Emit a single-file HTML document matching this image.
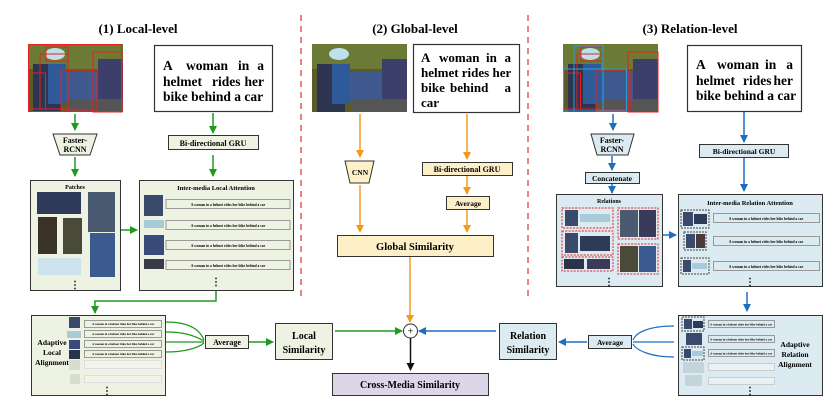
<!DOCTYPE html>
<html><head><meta charset="utf-8"><style>
html,body{margin:0;padding:0;background:#fff;}
svg{display:block;font-family:"Liberation Serif",serif;font-weight:bold;}
</style></head><body>
<svg width="839" height="407" viewBox="0 0 839 407" xmlns="http://www.w3.org/2000/svg">
<defs>
<g id="photo">
<rect x="0" y="0" width="95" height="68" fill="#5a5a2a"/>
<rect x="0" y="0" width="95" height="25" fill="#6b7a35"/>
<rect x="35" y="28" width="45" height="30" fill="#3e5a8e"/>
<rect x="70" y="15" width="25" height="53" fill="#3b3f6a"/>
<rect x="5" y="20" width="28" height="48" fill="#2d3550"/>
<rect x="20" y="20" width="18" height="40" fill="#2f5a9a"/>
<ellipse cx="27" cy="10" rx="10" ry="6" fill="#bfe0ea"/>
<rect x="40" y="55" width="55" height="13" fill="#555"/>
</g>
<marker id="ag" markerWidth="8" markerHeight="8" refX="7" refY="4" orient="auto" markerUnits="userSpaceOnUse"><path d="M0,0 L8,4 L0,8 z" fill="#1e9a1e"/></marker>
<marker id="ao" markerWidth="8" markerHeight="8" refX="7" refY="4" orient="auto" markerUnits="userSpaceOnUse"><path d="M0,0 L8,4 L0,8 z" fill="#f39a1e"/></marker>
<marker id="ab" markerWidth="8" markerHeight="8" refX="7" refY="4" orient="auto" markerUnits="userSpaceOnUse"><path d="M0,0 L8,4 L0,8 z" fill="#1f6fc0"/></marker>
<marker id="ak" markerWidth="8" markerHeight="8" refX="7" refY="4" orient="auto" markerUnits="userSpaceOnUse"><path d="M0,0 L8,4 L0,8 z" fill="#111"/></marker>
</defs>

<line x1="301" y1="15" x2="301" y2="300" stroke="#e03030" stroke-width="1.2" stroke-dasharray="6,5"/>
<line x1="528" y1="15" x2="528" y2="300" stroke="#e03030" stroke-width="1.2" stroke-dasharray="6,5"/>

<text x="138" y="33" font-size="13" text-anchor="middle">(1) Local-level</text>
<text x="415" y="33" font-size="13" text-anchor="middle">(2) Global-level</text>
<text x="690" y="33" font-size="13" text-anchor="middle">(3) Relation-level</text>

<!-- LEFT -->
<use href="#photo" x="28" y="44"/>
<g fill="none" stroke="#e82020" stroke-width="1">
<rect x="28.5" y="73" width="17" height="36"/><rect x="40" y="54" width="28" height="55"/>
<rect x="46" y="47" width="22" height="14"/><rect x="61" y="70" width="36" height="40"/>
<rect x="93" y="52" width="29" height="60"/><rect x="28.5" y="44.5" width="93" height="67"/>
</g>
<rect x="154.5" y="45.5" width="118" height="66" fill="#fff" stroke="#333" stroke-width="1.2"/>
<g font-size="13.5">
<text x="163" y="70">A</text><text x="186" y="70">woman</text><text x="238" y="70">in</text><text x="264" y="70" text-anchor="end">a</text>
<text x="163" y="86">helmet</text><text x="212" y="86">rides</text><text x="264" y="86" text-anchor="end">her</text>
<text x="163" y="101">bike behind a car</text>
</g>

<line x1="75" y1="114" x2="75" y2="130" stroke="#1e9a1e" stroke-width="1.5" marker-end="url(#ag)"/>
<polygon points="53,134 97,134 90,155 60,155" fill="#eef2e2" stroke="#333"/>
<text x="75" y="143" font-size="8" text-anchor="middle">Faster-</text>
<text x="75" y="152" font-size="8" text-anchor="middle">RCNN</text>
<line x1="75" y1="157" x2="75" y2="176" stroke="#1e9a1e" stroke-width="1.5" marker-end="url(#ag)"/>

<line x1="213" y1="113" x2="213" y2="133" stroke="#1e9a1e" stroke-width="1.5" marker-end="url(#ag)"/>
<rect x="168.5" y="135.5" width="90" height="14" fill="#eef2e2" stroke="#333"/>
<text x="213" y="146" font-size="8" text-anchor="middle">Bi-directional GRU</text>
<line x1="213" y1="155" x2="213" y2="176" stroke="#1e9a1e" stroke-width="1.5" marker-end="url(#ag)"/>

<rect x="30.5" y="180.5" width="90" height="110" fill="#eef2e2" stroke="#333"/>
<text x="75" y="189" font-size="6" text-anchor="middle">Patches</text>
<rect x="37" y="192" width="44" height="22" fill="#2d3a58"/>
<rect x="88" y="192" width="27" height="40" fill="#4a5a70"/>
<rect x="38" y="217" width="19" height="37" fill="#3a3228"/>
<rect x="63" y="218" width="19" height="36" fill="#4a4a3a"/>
<rect x="90" y="233" width="25" height="44" fill="#3a5a90"/>
<rect x="38" y="258" width="43" height="17" fill="#cde4ee"/>
<text x="75" y="288" font-size="10" text-anchor="middle">⋮</text>

<line x1="121" y1="230" x2="137" y2="230" stroke="#1e9a1e" stroke-width="1.5" marker-end="url(#ag)"/>

<rect x="139.5" y="180.5" width="154" height="110" fill="#eef2e2" stroke="#333"/>
<text x="216" y="190" font-size="6.5" text-anchor="middle">Inter-media Local Attention</text>
<g font-size="3.6" text-anchor="middle">
<rect x="144" y="195" width="19" height="21" fill="#3a4a6a"/><rect x="166" y="199.5" width="124" height="9" fill="#eef2e2" stroke="#999"/><text x="228" y="206">A woman in a helmet rides her bike behind a car</text>
<rect x="144" y="220" width="20" height="8" fill="#a8cbd8"/><rect x="166" y="220.5" width="124" height="9" fill="#eef2e2" stroke="#999"/><text x="228" y="227">A woman in a helmet rides her bike behind a car</text>
<rect x="144" y="235" width="20" height="20" fill="#3a4a7a"/><rect x="166" y="240.5" width="124" height="9" fill="#eef2e2" stroke="#999"/><text x="228" y="247">A woman in a helmet rides her bike behind a car</text>
<rect x="144" y="259" width="20" height="10" fill="#3a3a4a"/><rect x="166" y="260.5" width="124" height="9" fill="#eef2e2" stroke="#999"/><text x="228" y="267">A woman in a helmet rides her bike behind a car</text>
</g>
<text x="216" y="285" font-size="10" text-anchor="middle">⋮</text>

<polyline points="216,291 216,301 95,301 95,313" fill="none" stroke="#1e9a1e" stroke-width="1.5" marker-end="url(#ag)"/>

<rect x="31.5" y="315.5" width="134" height="80" fill="#eef2e2" stroke="#333"/>
<text x="52" y="345" font-size="7.5" text-anchor="middle">Adaptive</text>
<text x="52" y="355" font-size="7.5" text-anchor="middle">Local</text>
<text x="52" y="365" font-size="7.5" text-anchor="middle">Alignment</text>
<g font-size="3" text-anchor="middle">
<rect x="69" y="317" width="11" height="11" fill="#3a4a6a"/><rect x="84.5" y="320.5" width="77" height="7" fill="#eef2e2" stroke="#999"/><text x="123" y="325">A woman in a helmet rides her bike behind a car</text>
<rect x="67" y="331" width="14" height="7" fill="#a8cbd8"/><rect x="84.5" y="330.5" width="77" height="7" fill="#eef2e2" stroke="#999"/><text x="123" y="335">A woman in a helmet rides her bike behind a car</text>
<rect x="69" y="340" width="11" height="9" fill="#3a4a7a"/><rect x="84.5" y="340.5" width="77" height="7" fill="#eef2e2" stroke="#999"/><text x="123" y="345">A woman in a helmet rides her bike behind a car</text>
<rect x="69" y="350" width="11" height="9" fill="#2a3448"/><rect x="84.5" y="350.5" width="77" height="7" fill="#eef2e2" stroke="#999"/><text x="123" y="355">A woman in a helmet rides her bike behind a car</text>
<rect x="69" y="360" width="11" height="10" fill="#d8ddd0"/><rect x="84.5" y="360.5" width="77" height="8" fill="#f2f4ec" stroke="#ddd"/>
<rect x="70" y="374" width="10" height="10" fill="#d8ddd0"/><rect x="84.5" y="375.5" width="77" height="7" fill="#f2f4ec" stroke="#ddd"/>
</g>
<text x="107" y="394" font-size="10" text-anchor="middle">⋮</text>

<g fill="none" stroke="#1e9a1e" stroke-width="1.2">
<path d="M166,322 C190,322 200,330 204,340"/>
<path d="M166,332 C185,332 195,336 204,341"/>
<path d="M166,342 L204,342"/>
<path d="M166,352 C185,352 198,348 204,343"/>
</g>
<rect x="205.5" y="335.5" width="43" height="13" fill="#eef2e2" stroke="#333"/>
<text x="227" y="345" font-size="8" text-anchor="middle">Average</text>
<line x1="249" y1="342" x2="273" y2="342" stroke="#1e9a1e" stroke-width="1.5" marker-end="url(#ag)"/>
<rect x="275.5" y="323.5" width="57" height="36" fill="#eef2e2" stroke="#333"/>
<text x="304" y="339" font-size="10" text-anchor="middle">Local</text>
<text x="304" y="353" font-size="10" text-anchor="middle">Similarity</text>
<line x1="335" y1="331" x2="402" y2="331" stroke="#1e9a1e" stroke-width="1.5" marker-end="url(#ag)"/>

<!-- CENTER -->
<use href="#photo" x="312" y="44"/>
<rect x="413.5" y="44.5" width="106" height="68" fill="#fff" stroke="#333" stroke-width="1.2"/>
<g font-size="13">
<text x="421" y="62">A</text><text x="439" y="62">woman</text><text x="486" y="62">in</text><text x="511" y="62" text-anchor="end">a</text>
<text x="421" y="77">helmet rides her</text>
<text x="421" y="92">bike</text><text x="450" y="92">behind</text><text x="511" y="92" text-anchor="end">a</text>
<text x="421" y="107">car</text>
</g>

<line x1="360" y1="114" x2="360" y2="157" stroke="#f39a1e" stroke-width="1.5" marker-end="url(#ao)"/>
<polygon points="345,161 374,161 369,183 350,183" fill="#fdf0c8" stroke="#333"/>
<text x="360" y="175" font-size="7.5" text-anchor="middle">CNN</text>
<line x1="360" y1="185" x2="360" y2="232" stroke="#f39a1e" stroke-width="1.5" marker-end="url(#ao)"/>

<line x1="467" y1="114" x2="467" y2="159" stroke="#f39a1e" stroke-width="1.5" marker-end="url(#ao)"/>
<rect x="422.5" y="162.5" width="90" height="13" fill="#fdf0c8" stroke="#333"/>
<text x="467" y="172" font-size="8" text-anchor="middle">Bi-directional GRU</text>
<line x1="467" y1="176" x2="467" y2="194" stroke="#f39a1e" stroke-width="1.5" marker-end="url(#ao)"/>
<rect x="446.5" y="196.5" width="43" height="13" fill="#fdf0c8" stroke="#333"/>
<text x="468" y="206" font-size="7.5" text-anchor="middle">Average</text>
<line x1="467" y1="210" x2="467" y2="232" stroke="#f39a1e" stroke-width="1.5" marker-end="url(#ao)"/>

<rect x="337.5" y="235.5" width="156" height="21" fill="#fdf0c8" stroke="#333"/>
<text x="415" y="250" font-size="10.5" text-anchor="middle">Global Similarity</text>
<line x1="410" y1="257" x2="410" y2="322" stroke="#f39a1e" stroke-width="1.5" marker-end="url(#ao)"/>

<circle cx="410.5" cy="331" r="7" fill="#fff" stroke="#333"/>
<text x="410.5" y="334.5" font-size="10" text-anchor="middle" font-weight="normal">+</text>
<line x1="410.5" y1="338" x2="410.5" y2="370" stroke="#111" stroke-width="1.5" marker-end="url(#ak)"/>
<rect x="332.5" y="373.5" width="156" height="22" fill="#dcd6e8" stroke="#333"/>
<text x="410" y="388" font-size="10" text-anchor="middle">Cross-Media Similarity</text>

<!-- RIGHT -->
<use href="#photo" x="563" y="44"/>
<g fill="none" stroke-width="1">
<rect x="563.5" y="73" width="17" height="36" stroke="#e82020"/><rect x="577" y="54" width="26" height="55" stroke="#e82020"/>
<rect x="581" y="47" width="22" height="14" stroke="#e82020"/><rect x="596" y="70" width="34" height="40" stroke="#e82020"/>
<rect x="628" y="52" width="30" height="60" stroke="#e82020"/>
<rect x="563.5" y="69" width="63" height="42" stroke="#2aa0dc"/><rect x="574" y="46" width="29" height="65" stroke="#2aa0dc"/>
</g>
<rect x="687.5" y="45.5" width="114" height="66" fill="#fff" stroke="#333" stroke-width="1.2"/>
<g font-size="13.5">
<text x="696" y="69">A</text><text x="717" y="69">woman</text><text x="765" y="69">in</text><text x="793" y="69" text-anchor="end">a</text>
<text x="696" y="85">helmet</text><text x="743" y="85">rides</text><text x="793" y="85" text-anchor="end">her</text>
<text x="696" y="100">bike behind a car</text>
</g>

<line x1="613" y1="114" x2="613" y2="130" stroke="#1f6fc0" stroke-width="1.5" marker-end="url(#ab)"/>
<polygon points="591,134 634,134 628,155 597,155" fill="#dbebf1" stroke="#333"/>
<text x="612" y="143" font-size="8" text-anchor="middle">Faster-</text>
<text x="612" y="152" font-size="8" text-anchor="middle">RCNN</text>
<line x1="612" y1="156" x2="612" y2="170" stroke="#1f6fc0" stroke-width="1.5" marker-end="url(#ab)"/>
<rect x="585.5" y="172.5" width="54" height="11" fill="#dbebf1" stroke="#333"/>
<text x="612" y="181" font-size="7.5" text-anchor="middle">Concatenate</text>
<line x1="612" y1="184" x2="612" y2="193" stroke="#1f6fc0" stroke-width="1.5" marker-end="url(#ab)"/>

<line x1="744" y1="112" x2="744" y2="142" stroke="#1f6fc0" stroke-width="1.5" marker-end="url(#ab)"/>
<rect x="699.5" y="144.5" width="89" height="13" fill="#dbebf1" stroke="#333"/>
<text x="744" y="154" font-size="7.5" text-anchor="middle">Bi-directional GRU</text>
<line x1="744" y1="158" x2="744" y2="191" stroke="#1f6fc0" stroke-width="1.5" marker-end="url(#ab)"/>

<rect x="556.5" y="194.5" width="106" height="92" fill="#dbebf1" stroke="#333"/>
<text x="609" y="203" font-size="6" text-anchor="middle">Relations</text>
<g fill="none" stroke="#e02020" stroke-dasharray="2,1.3" stroke-width="1">
<rect x="562" y="208" width="51" height="20"/><rect x="618" y="208" width="40" height="31"/>
<rect x="562" y="231" width="51" height="24"/><rect x="618" y="244" width="40" height="30"/>
<rect x="562" y="257" width="51" height="14"/>
</g>
<rect x="565" y="210" width="13" height="16" fill="#3a4a6a"/><rect x="580" y="214" width="30" height="8" fill="#a8cbd8"/>
<rect x="620" y="210" width="18" height="27" fill="#4a5a70"/><rect x="639" y="210" width="17" height="27" fill="#3a3a5a"/>
<rect x="565" y="233" width="13" height="20" fill="#3a4a6a"/><rect x="580" y="236" width="30" height="15" fill="#2d3a58"/>
<rect x="620" y="246" width="18" height="26" fill="#4a4a3a"/><rect x="639" y="246" width="17" height="26" fill="#3a5a90"/>
<rect x="564" y="259" width="20" height="10" fill="#2a3448"/><rect x="587" y="259" width="23" height="10" fill="#3a3a5a"/>
<text x="609" y="285" font-size="10" text-anchor="middle">⋮</text>

<line x1="663" y1="235" x2="676" y2="235" stroke="#1f6fc0" stroke-width="1.5" marker-end="url(#ab)"/>

<rect x="678.5" y="194.5" width="144" height="92" fill="#dbebf1" stroke="#333"/>
<text x="750" y="205" font-size="6.5" text-anchor="middle">Inter-media Relation Attention</text>
<g font-size="3.6" text-anchor="middle">
<rect x="681" y="210" width="28" height="18" fill="none" stroke="#444" stroke-dasharray="2,1"/><rect x="683" y="212" width="10" height="14" fill="#3a4a6a"/><rect x="694" y="214" width="13" height="10" fill="#2d3a58"/>
<rect x="713.5" y="213.5" width="106" height="9" fill="#dbebf1" stroke="#999"/><text x="766" y="220">A woman in a helmet rides her bike behind a car</text>
<rect x="684" y="232" width="22" height="18" fill="none" stroke="#444" stroke-dasharray="2,1"/><rect x="686" y="234" width="9" height="14" fill="#3a4a6a"/><rect x="696" y="234" width="9" height="14" fill="#4a3a3a"/>
<rect x="713.5" y="236.5" width="106" height="9" fill="#dbebf1" stroke="#999"/><text x="766" y="243">A woman in a helmet rides her bike behind a car</text>
<rect x="681" y="258" width="28" height="16" fill="none" stroke="#444" stroke-dasharray="2,1"/><rect x="683" y="260" width="8" height="12" fill="#3a4a6a"/><rect x="692" y="263" width="15" height="6" fill="#a8cbd8"/>
<rect x="713.5" y="261.5" width="106" height="9" fill="#dbebf1" stroke="#999"/><text x="766" y="268">A woman in a helmet rides her bike behind a car</text>
</g>
<text x="750" y="285" font-size="10" text-anchor="middle">⋮</text>

<line x1="747" y1="292" x2="747" y2="311" stroke="#1f6fc0" stroke-width="1.5" marker-end="url(#ab)"/>

<rect x="678.5" y="315.5" width="144" height="80" fill="#dbebf1" stroke="#333"/>
<text x="795" y="347" font-size="7.5" text-anchor="middle">Adaptive</text>
<text x="795" y="357" font-size="7.5" text-anchor="middle">Relation</text>
<text x="795" y="367" font-size="7.5" text-anchor="middle">Alignment</text>
<g font-size="3" text-anchor="middle">
<rect x="682" y="317" width="22" height="14" fill="none" stroke="#444" stroke-dasharray="2,1"/><rect x="684" y="319" width="8" height="10" fill="#3a4a6a"/><rect x="693" y="321" width="10" height="7" fill="#2d3a58"/>
<rect x="708.5" y="320.5" width="66" height="7" fill="#dbebf1" stroke="#999"/><text x="741" y="325.5">A woman in a helmet rides her bike behind a car</text>
<rect x="686" y="333" width="16" height="12" fill="#3a4a6a"/>
<rect x="708.5" y="335.5" width="66" height="7" fill="#dbebf1" stroke="#999"/><text x="741" y="340.5">A woman in a helmet rides her bike behind a car</text>
<rect x="682" y="347" width="22" height="13" fill="none" stroke="#444" stroke-dasharray="2,1"/><rect x="684" y="349" width="7" height="9" fill="#3a4a6a"/><rect x="692" y="351" width="11" height="5" fill="#a8cbd8"/>
<rect x="708.5" y="349.5" width="66" height="7" fill="#dbebf1" stroke="#999"/><text x="741" y="354.5">A woman in a helmet rides her bike behind a car</text>
<rect x="683" y="362" width="21" height="11" fill="#c4d4da"/><rect x="708.5" y="363.5" width="66" height="7" fill="#e8f1f4" stroke="#ccc"/>
<rect x="685" y="375" width="17" height="11" fill="#c4d4da"/><rect x="708.5" y="377.5" width="66" height="7" fill="#e8f1f4" stroke="#ccc"/>
</g>
<text x="750" y="394" font-size="10" text-anchor="middle">⋮</text>

<g fill="none" stroke="#1f6fc0" stroke-width="1.2">
<path d="M674,326 C650,326 636,332 633,340"/>
<path d="M674,342 L633,342"/>
<path d="M674,357 C650,357 636,350 633,344"/>
</g>
<rect x="588.5" y="335.5" width="43" height="13" fill="#dbebf1" stroke="#333"/>
<text x="610" y="345" font-size="7.5" text-anchor="middle">Average</text>
<line x1="587" y1="342" x2="559" y2="342" stroke="#1f6fc0" stroke-width="1.5" marker-end="url(#ab)"/>
<rect x="499.5" y="323.5" width="57" height="36" fill="#dbebf1" stroke="#333"/>
<text x="528" y="339" font-size="10" text-anchor="middle">Relation</text>
<text x="528" y="353" font-size="10" text-anchor="middle">Similarity</text>
<line x1="496" y1="331" x2="419" y2="331" stroke="#1f6fc0" stroke-width="1.5" marker-end="url(#ab)"/>
</svg>
</body></html>
